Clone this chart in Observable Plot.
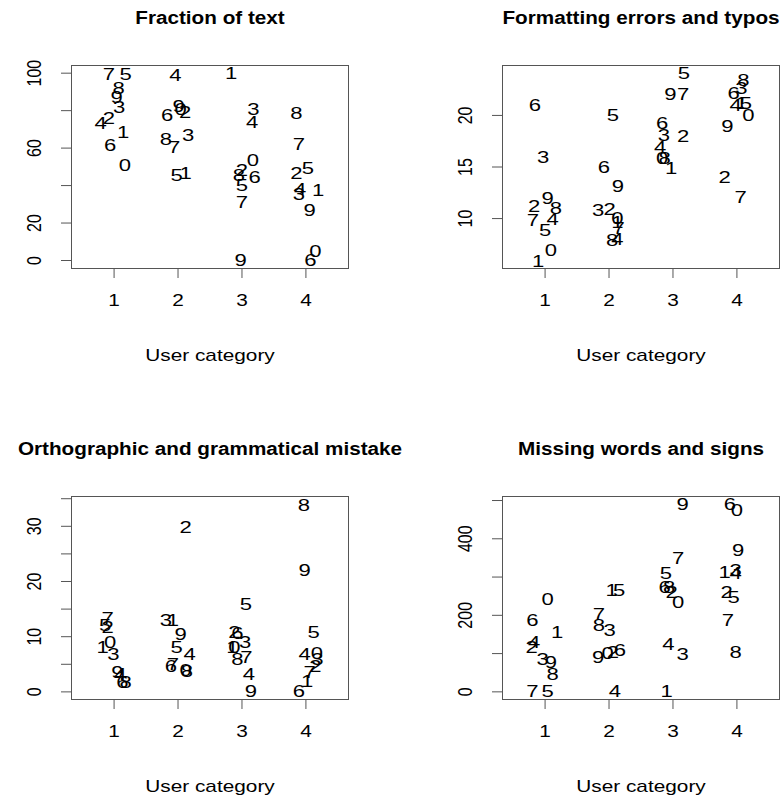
<!DOCTYPE html>
<html>
<head>
<meta charset="utf-8">
<script src="https://cdn.jsdelivr.net/npm/d3@7"></script>
<script src="https://cdn.jsdelivr.net/npm/@observablehq/plot@0.6"></script>
<style>
  html, body { margin: 0; padding: 0; background: white; overflow: hidden; }
  #wrap { position: relative; width: 783px; height: 801px; background: white; }
  .panel { position: absolute; }
</style>
</head>
<body>
<div id="wrap"></div>
<script>
// ---------- data ----------
const categories = [1, 2, 3, 4];
const xLabel = "User category";

// Panel 1: Fraction of text
const fracTitle = "Fraction of text";
const fracIds = ["7","5","8","9","3","4","2","1","6","0",
                 "4","9","0","2","6","8","7","3","5","1",
                 "1","3","4","0","2","8","6","5","7","9",
                 "8","7","5","2","4","3","1","9","0","6"];
const fracX = [0.92,1.18,1.07,1.04,1.08,0.79,0.92,1.14,0.94,1.17,
               1.96,2.01,2.04,2.11,1.83,1.81,1.94,2.16,1.98,2.12,
               2.83,3.18,3.16,3.17,3.00,2.95,3.20,3.00,3.00,2.98,
               3.85,3.89,4.03,3.85,3.91,3.89,4.19,4.06,4.15,4.07];
const fracY = [99.0,99.3,91.7,86.9,81.8,73.0,75.6,68.5,61.4,50.7,
               98.8,82.2,80.6,79.2,77.4,64.4,60.5,66.7,45.4,46.3,
               99.7,80.4,73.9,53.4,48.0,45.4,44.5,40.0,31.1,0.0,
               78.7,61.8,49.3,46.6,37.7,35.2,37.4,26.7,4.8,0.0];
const fracTicks = [0, 20, 40, 60, 80, 100];
const fracTickLabels = [0, 20, 60, 100];

// Panel 2: Formatting errors and typos
const fmtTitle = "Formatting errors and typos";
const fmtIds = ["6","3","9","2","8","7","4","5","0","1",
                "5","6","9","3","2","0","1","7","8","4",
                "5","9","7","6","3","2","4","0","8","1",
                "8","3","6","4","1","5","0","9","2","7"];
const fmtX = [0.84,0.97,1.04,0.83,1.17,0.81,1.12,1.00,1.09,0.89,
              2.06,1.92,2.14,1.83,2.01,2.13,2.13,2.15,2.05,2.13,
              3.17,2.96,3.16,2.83,2.86,3.16,2.80,2.83,2.87,2.97,
              4.10,4.07,3.95,3.98,4.07,4.14,4.18,3.85,3.81,4.06];
const fmtY = [20.97,15.9,11.94,11.12,10.97,9.84,9.9,8.87,6.93,5.8,
              20.0,14.94,13.06,10.8,10.87,10.0,9.6,9.03,7.9,7.97,
              24.04,22.0,22.0,19.2,18.06,17.97,16.87,15.8,15.8,14.84,
              23.39,22.58,22.1,20.97,21.13,21.13,20.0,18.94,13.93,12.03];
const fmtTicks = [10, 15, 20];
const fmtTickLabels = [10, 15, 20];

// Panel 3: Orthographic and grammatical mistake
const ortTitle = "Orthographic and grammatical mistake";
const ortIds = ["7","5","2","1","0","3","9","4","6","8",
                "2","3","1","9","5","4","6","7","8","0",
                "5","2","6","3","0","1","8","7","4","9",
                "8","9","5","4","0","3","2","7","1","6"];
const ortX = [0.90,0.86,0.90,0.82,0.94,0.99,1.05,1.10,1.13,1.18,
              2.12,1.81,1.92,2.04,1.98,2.18,1.89,1.92,2.14,2.12,
              3.06,2.88,2.93,3.05,2.88,2.85,2.93,3.07,3.11,3.14,
              3.97,3.98,4.12,3.98,4.17,4.18,4.15,4.06,4.02,3.89];
const ortY = [13.2,11.95,11.6,8.0,8.9,6.8,3.45,3.2,1.6,1.6,
              29.7,12.85,12.85,10.3,8.0,6.8,4.67,4.98,3.76,3.8,
              15.9,10.7,10.55,8.9,8.0,8.0,5.9,6.2,3.2,0.0,
              33.76,21.95,10.7,6.8,6.9,5.9,4.67,3.45,1.95,0.0];
const ortTicks = [0, 5, 10, 15, 20, 25, 30, 35];
const ortTickLabels = [0, 10, 20, 30];

// Panel 4: Missing words and signs
const misTitle = "Missing words and signs";
const misIds = ["0","6","1","4","2","3","9","8","7","5",
                "1","5","7","8","3","9","0","2","6","4",
                "9","7","5","6","8","2","0","4","3","1",
                "6","0","9","1","3","4","2","5","7","8"];
const misX = [1.04,0.80,1.19,0.83,0.79,0.96,1.09,1.12,0.80,1.04,
              2.04,2.16,1.84,1.84,2.01,1.83,1.98,2.06,2.17,2.09,
              3.15,3.08,2.89,2.87,2.94,2.98,3.08,2.93,3.15,2.90,
              3.89,4.00,4.02,3.81,3.98,3.98,3.84,3.95,3.86,3.98];
const misY = [242,186,155,129,116,85,76,46,2,0,
              264,264,203,172,159,89,99,102,107,2,
              490,348,308,273,273,260,234,124,98,2,
              490,474,369,312,317,308,260,247,186,102];
const misTicks = [0, 100, 200, 300, 400, 500];
const misTickLabels = [0, 200, 400];

// ---------- drawing ----------
const FONT = "'Liberation Sans', Arial, Helvetica, sans-serif";
const INK = "#000";
const BOX = "#555";
const STRETCH = 1.3;        // the reference's lettering is drawn wide
const TITLE_STRETCH = 1.09; // titles are only slightly widened
const titles = [fracTitle, fmtTitle, ortTitle, misTitle];

function makePanel(ids, xs, ys, title, yDomain, yTicks, yShown) {
  const rows = ids.map((id, i) => ({id, x: xs[i], y: ys[i]}));
  return Plot.plot({
    width: 352, height: 370,
    marginLeft: 71, marginRight: 4, marginTop: 65, marginBottom: 102,
    style: {fontFamily: FONT, fontSize: "16px", color: INK, background: "white", overflow: "visible"},
    x: {domain: [0.334, 4.666]},
    y: {domain: yDomain},
    marks: [
      Plot.frame({stroke: BOX, strokeWidth: 1}),
      Plot.axisX(categories, {tickSize: 10, tickPadding: 16, fontSize: 16, label: null, stroke: BOX, fill: INK}),
      Plot.axisY(yTicks, {tickSize: 10, tickPadding: 21, tickRotate: -90, fontSize: 16, label: null, stroke: BOX, fill: INK,
        tickFormat: d => yShown.includes(d) ? String(d) : ""}),
      Plot.text(rows, {x: "x", y: "y", text: "id", fontSize: 17, fill: INK}),
      Plot.text([title], {frameAnchor: "top", lineAnchor: "middle", dy: -48, fontSize: 19, fontWeight: "bold", fill: INK}),
      Plot.text([xLabel], {frameAnchor: "bottom", lineAnchor: "middle", dy: 87, fontSize: 16, fill: INK})
    ]
  });
}

// widen every label horizontally on screen, keeping its anchor point
function stretchText(svg) {
  svg.querySelectorAll("text").forEach(t => {
    const k = titles.includes(t.textContent) ? TITLE_STRETCH : STRETCH;
    const tr = t.getAttribute("transform") || "";
    const m = tr.match(/^\s*translate\(([^)]*)\)(.*)$/);
    if (m) {
      t.setAttribute("transform", `translate(${m[1]}) scale(${k},1)${m[2]}`);
    } else {
      const x = +t.getAttribute("x") || 0, y = +t.getAttribute("y") || 0;
      t.removeAttribute("x"); t.removeAttribute("y");
      t.setAttribute("transform", `translate(${x},${y}) scale(${k},1) ${tr}`);
    }
  });
}

const panels = [
  {el: makePanel(fracIds, fracX, fracY, fracTitle, [-4.27, 104.1], fracTicks, fracTickLabels), left: 0, top: 0},
  {el: makePanel(fmtIds, fmtX, fmtY, fmtTitle, [5.16, 24.84], fmtTicks, fmtTickLabels), left: 431, top: 0},
  {el: makePanel(ortIds, ortX, ortY, ortTitle, [-1.38, 35.4], ortTicks, ortTickLabels), left: 0, top: 431},
  {el: makePanel(misIds, misX, misY, misTitle, [-20, 510.5], misTicks, misTickLabels), left: 431, top: 431}
];
const wrap = document.getElementById("wrap");
for (const p of panels) {
  stretchText(p.el);
  const d = document.createElement("div");
  d.className = "panel";
  d.style.left = p.left + "px";
  d.style.top = p.top + "px";
  d.appendChild(p.el);
  wrap.appendChild(d);
}
</script>
</body>
</html>
